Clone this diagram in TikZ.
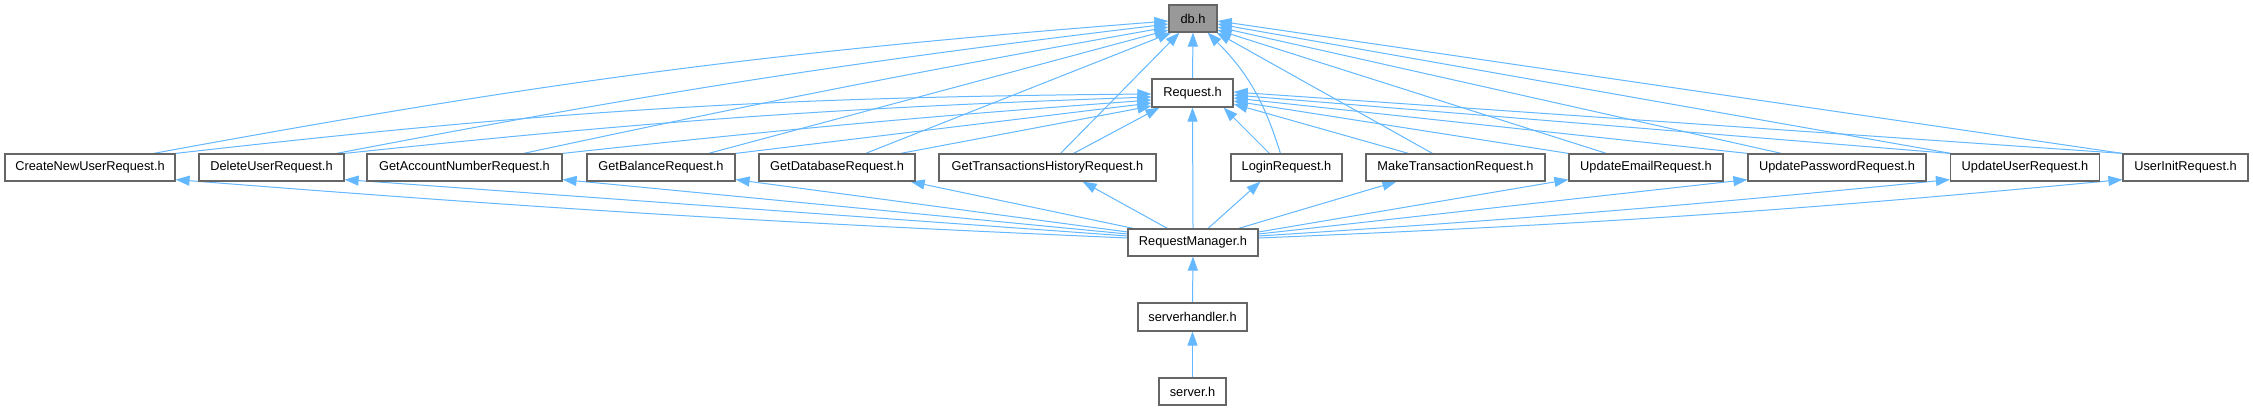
\documentclass[tikz,border=0pt]{standalone}
\usepackage{fontspec}
\setmainfont{Liberation Sans}
\usetikzlibrary{arrows.meta}
\definecolor{edgec}{HTML}{63B8FF}
\definecolor{boxc}{HTML}{666666}
\definecolor{dbfill}{HTML}{999999}
\pgfdeclarelayer{bg}
\pgfsetlayers{bg,main}
\begin{document}
\begin{tikzpicture}[x=0.5pt,y=-0.5pt,
  box/.style={draw=boxc, line width=0.6pt, fill=white, minimum height=13.5pt, inner sep=0pt, font=\fontsize{6.4}{7.7}\selectfont},
  edge/.style={draw=edgec, line width=0.5pt, -{Triangle[length=7pt,width=5pt]}}
]
\useasboundingbox (0,0) rectangle (2253,411);
% nodes
\node[box, fill=dbfill, minimum width=24pt] (db) at (1193,18.5) {db.h};
\node[box, minimum width=40.5pt, minimum height=14pt] (req) at (1192.5,93) {Request.h};
\node[box, minimum width=85pt] (cnu) at (90,167.5) {CreateNewUserRequest.h};
\node[box, minimum width=72.5pt] (dus) at (271.5,167.5) {DeleteUserRequest.h};
\node[box, minimum width=97.5pt] (gan) at (464.5,167.5) {GetAccountNumberRequest.h};
\node[box, minimum width=74pt] (gb) at (661,167.5) {GetBalanceRequest.h};
\node[box, minimum width=78pt] (gd) at (837,167.5) {GetDatabaseRequest.h};
\node[box, minimum width=108.5pt] (gth) at (1047.5,167.5) {GetTransactionsHistoryRequest.h};
\node[box, minimum width=55.5pt] (lr) at (1286.5,167.5) {LoginRequest.h};
\node[box, minimum width=89.5pt] (mt) at (1455.5,167.5) {MakeTransactionRequest.h};
\node[box, minimum width=77pt] (ue) at (1646,167.5) {UpdateEmailRequest.h};
\node[box, minimum width=89pt] (up) at (1837,167.5) {UpdatePasswordRequest.h};
\node[box, minimum width=74.5pt] (uu) at (2025,167.5) {UpdateUserRequest.h};
\node[box, minimum width=62.5pt] (ui) at (2185.5,167.5) {UserInitRequest.h};
\node[box, minimum width=65pt] (rm) at (1193,242.5) {RequestManager.h};
\node[box, minimum width=54.5pt, minimum height=14pt] (sh) at (1192.5,317) {serverhandler.h};
\node[box, minimum width=33.5pt] (sv) at (1192.5,391.5) {server.h};
\begin{pgfonlayer}{bg}
\fill[white] (0,0) rectangle (2253,411);
% edges to db.h
\draw[edge] ([xshift=-11pt]cnu.north east) to[bend left=3] ([yshift=-1.25pt]db.west);
\draw[edge] ([xshift=-4pt]dus.north east) to[bend left=2] ([yshift=-2.75pt]db.west);
\draw[edge] ([xshift=-19.5pt]gan.north east) to[bend left=1] ([yshift=-4.25pt]db.west);
\draw[edge] ([xshift=-13.5pt]gb.north east) -- ([yshift=-5.75pt]db.west);
\draw[edge] ([xshift=-25pt]gd.north east) -- ([xshift=1.5pt]db.south west);
\draw[edge] ([xshift=-48pt]gth.north east) -- ([xshift=5.5pt]db.south west);
\draw[edge] (req.north) -- (db.south);
\draw[edge] ([xshift=25pt]lr.north west) to[bend right=14] ([xshift=-5pt]db.south east);
\draw[edge] ([xshift=33.5pt]mt.north west) -- ([xshift=-0.5pt]db.south east);
\draw[edge] ([xshift=19pt]ue.north west) -- ([yshift=-5.75pt]db.east);
\draw[edge] ([xshift=17pt]up.north west) -- ([yshift=-4.25pt]db.east);
\draw[edge] ([xshift=0.5pt]uu.north west) -- ([yshift=-2.75pt]db.east);
\draw[edge] (ui.north west) -- ([yshift=-1.25pt]db.east);
% edges to Request.h
\draw[edge] (cnu.north east) to[bend left=3] ([yshift=-0.5pt]req.west);
\draw[edge] (dus.north east) to[bend left=2] ([yshift=-2pt]req.west);
\draw[edge] (gan.north east) to[bend left=1] ([yshift=-3.5pt]req.west);
\draw[edge] (gb.north east) -- ([yshift=-5pt]req.west);
\draw[edge] ([xshift=-7.5pt]gd.north east) -- ([yshift=-6.5pt]req.west);
\draw[edge] ([xshift=-41.5pt]gth.north east) -- ([xshift=4pt]req.south west);
\draw[edge] (rm.north) -- (req.south);
\draw[edge] ([xshift=19.5pt]lr.north west) -- ([xshift=-5pt]req.south east);
\draw[edge] ([xshift=21.5pt]mt.north west) -- ([yshift=-5.5pt]req.east);
\draw[edge] (ue.north west) -- ([yshift=-4pt]req.east);
\draw[edge] (up.north west) -- ([yshift=-2.5pt]req.east);
\draw[edge] (uu.north west) -- ([yshift=-1pt]req.east);
\draw[edge] (ui.north west) -- ([yshift=0.5pt]req.east);
% edges from RequestManager.h
\draw[edge] ([yshift=2.25pt]rm.west) to[bend left=1] ([yshift=1pt]cnu.south east);
\draw[edge] ([yshift=3.25pt]rm.west) -- ([yshift=1pt]dus.south east);
\draw[edge] ([yshift=4.25pt]rm.west) -- ([yshift=1pt]gan.south east);
\draw[edge] ([yshift=5.25pt]rm.west) -- ([yshift=1pt]gb.south east);
\draw[edge] ([xshift=3pt]rm.north west) -- ([xshift=-2.5pt]gd.south east);
\draw[edge] ([xshift=20pt]rm.north west) -- ([xshift=-37pt]gth.south east);
\draw[edge] ([xshift=7.5pt]rm.north) -- ([xshift=15pt]lr.south west);
\draw[edge] ([xshift=-10pt]rm.north east) -- ([xshift=15.5pt]mt.south west);
\draw[edge] ([yshift=5.25pt]rm.east) -- ([yshift=1pt]ue.south west);
\draw[edge] ([yshift=4.25pt]rm.east) -- ([yshift=1pt]up.south west);
\draw[edge] ([yshift=3.25pt]rm.east) to[bend right=1] ([yshift=1pt]uu.south west);
\draw[edge] ([yshift=2.25pt]rm.east) to[bend right=1.5] ([yshift=1pt]ui.south west);
% lower chain
\draw[edge] (sh.north) -- (rm.south);
\draw[edge] (sv.north) -- (sh.south);
\end{pgfonlayer}
\end{tikzpicture}
\end{document}
